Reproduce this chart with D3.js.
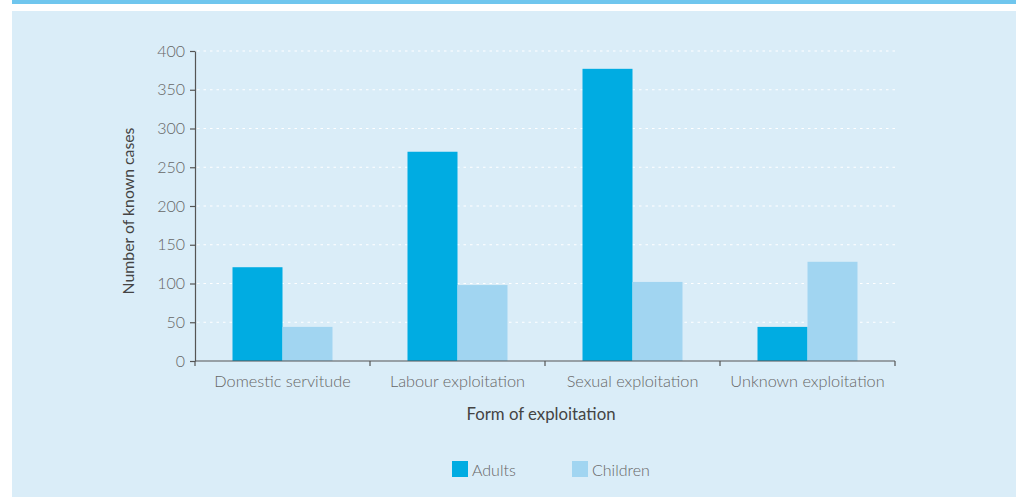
<!DOCTYPE html>
<html><head><meta charset="utf-8">
<script src="https://cdn.jsdelivr.net/npm/d3@7"></script>
<style>
html,body{margin:0;padding:0;background:#fff;}
svg{display:block;font-family:Lato, "Open Sans", sans-serif;}
</style></head>
<body><svg id="c" width="1016" height="497"></svg>
<script>
const categories = ["Domestic servitude","Labour exploitation","Sexual exploitation","Unknown exploitation"];
const seriesNames = ["Adults","Children"];
const adults = [121, 270, 377, 44];
const children = [44, 98, 102, 128];
const yTicks = [0,50,100,150,200,250,300,350,400];
const colors = ["#00ace2","#a1d5f1"];

(function(){
const svg = d3.select("#c");
svg.append("rect").attr("x",12).attr("y",0).attr("width",1004).attr("height",4).attr("fill","#6fc6ee");
svg.append("rect").attr("x",12).attr("y",11).attr("width",1004).attr("height",486).attr("fill","#daedf8");

const pLeft=195, pRight=895, pTop=51, pBottom=361;
const x = d3.scaleBand().domain(categories).range([pLeft,pRight]).paddingInner(0).paddingOuter(0);
const xs = d3.scaleBand().domain(seriesNames).range([0,x.bandwidth()]).paddingOuter(0.75).paddingInner(0);
const y = d3.scaleLinear().domain([0,400]).range([pBottom,pTop]);

// gridlines
svg.append("g").selectAll("line").data(yTicks.filter(d=>d>0)).join("line")
  .attr("x1",pLeft+2).attr("x2",pRight).attr("y1",d=>y(d)).attr("y2",d=>y(d))
  .attr("stroke","#ffffff").attr("stroke-width",1.2).attr("stroke-dasharray","2.5,4");

const data = categories.map((c,i)=>({cat:c, vals:[adults[i],children[i]]}));
const g = svg.append("g");
data.forEach(d=>{
  g.selectAll(null).data(seriesNames.map((s,j)=>({s, v:d.vals[j], j}))).join("rect")
   .attr("x",e=>x(d.cat)+xs(e.s)).attr("width",xs.bandwidth())
   .attr("y",e=>y(e.v)).attr("height",e=>y(0)-y(e.v))
   .attr("fill",e=>colors[e.j]);
});

// y axis
const ya = svg.append("g").attr("transform",`translate(${pLeft},0)`)
  .call(d3.axisLeft(y).tickValues(yTicks).tickSize(5).tickPadding(5).tickSizeOuter(0));
ya.select(".domain").attr("stroke","#555").attr("stroke-width",1.2);
ya.selectAll(".tick line").attr("stroke","#555").attr("stroke-width",1.2);
ya.selectAll(".tick text").attr("fill","#666").attr("font-size",16).attr("font-weight",300).attr("font-family","Lato, sans-serif");

// x axis
const xa = svg.append("g").attr("transform",`translate(0,${pBottom})`)
  .call(d3.axisBottom(x).tickSize(0).tickPadding(14));
xa.select(".domain").remove();
svg.append("line").attr("x1",pLeft).attr("x2",pRight).attr("y1",pBottom).attr("y2",pBottom).attr("stroke","#555").attr("stroke-width",1.2);
const bounds = [pLeft, ...categories.map(c=>x(c)+x.bandwidth())];
svg.append("g").selectAll("line").data(bounds).join("line")
  .attr("x1",d=>d).attr("x2",d=>d).attr("y1",pBottom).attr("y2",pBottom+5).attr("stroke","#555").attr("stroke-width",1.2);
xa.selectAll(".tick text").attr("fill","#666").attr("font-size",16.3).attr("font-weight",300).attr("font-family","Lato, sans-serif");

// titles
svg.append("text").attr("x",541).attr("y",420).attr("text-anchor","middle")
  .attr("fill","#444").attr("font-size",16.8).text("Form of exploitation");
svg.append("text").attr("transform",`translate(134,${(pTop+pBottom)/2+5}) rotate(-90)`)
  .attr("text-anchor","middle").attr("fill","#444").attr("font-size",15.8).text("Number of known cases");

// legend
const legX = [452, 572];
const leg = svg.append("g").selectAll("g").data(seriesNames).join("g")
  .attr("transform",(d,i)=>`translate(${legX[i]},461)`);
leg.append("rect").attr("width",16).attr("height",16).attr("fill",(d,i)=>colors[i]);
leg.append("text").attr("x",20).attr("y",14.5).attr("fill","#666").attr("font-size",16).attr("font-weight",300).text(d=>d);
})();
</script></body></html>
